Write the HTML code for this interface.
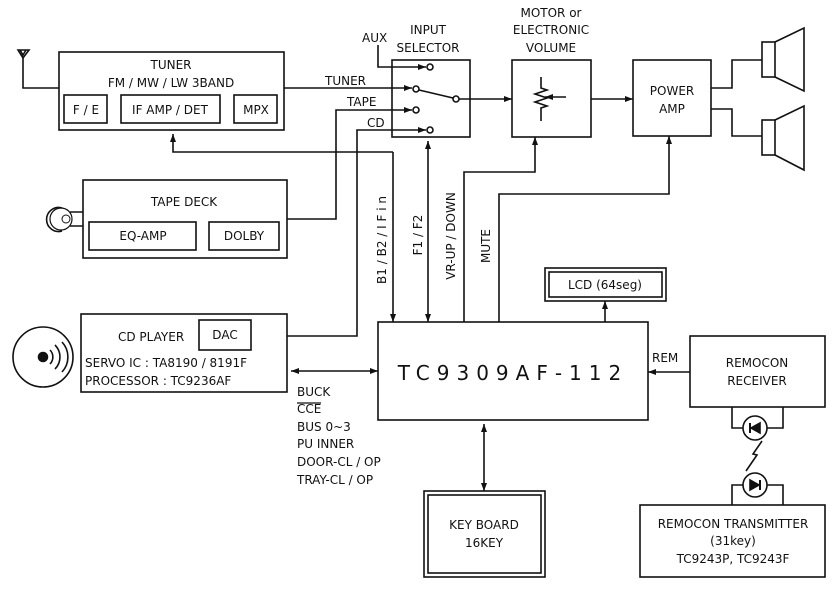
<!DOCTYPE html>
<html><head><meta charset="utf-8"><style>
html,body{margin:0;padding:0;background:#fff;}
svg{display:block;}
text{font-family:"DejaVu Sans","Liberation Sans",sans-serif;font-size:12px;fill:#111;}
</style></head><body>
<svg width="835" height="594" viewBox="0 0 835 594" xmlns="http://www.w3.org/2000/svg">
<defs>
<marker id="a" markerWidth="8" markerHeight="6" refX="8" refY="3" orient="auto" markerUnits="userSpaceOnUse"><path d="M0,0 L8,3 L0,6 z" fill="#111"/></marker>
<marker id="s" markerWidth="8" markerHeight="6" refX="0" refY="3" orient="auto" markerUnits="userSpaceOnUse"><path d="M8,0 L0,3 L8,6 z" fill="#111"/></marker>
</defs>
<g fill="none" stroke="#111" stroke-width="1.6">
<path d="M18,50 L29,50 L23,58 z M20,50 L23,55 L26,50"/>
<path d="M23,58 V88 H59"/>
<rect x="59" y="52" width="225" height="78"/>
<rect x="64" y="95" width="43" height="28"/>
<rect x="121" y="95" width="99" height="28"/>
<rect x="234" y="95" width="43" height="28"/>
<rect x="392" y="60" width="78" height="77"/>
<path d="M378,45 V67 H426" marker-end="url(#a)"/>
<path d="M284,88 H412" marker-end="url(#a)"/>
<path d="M287,219 H336 V110 H412" marker-end="url(#a)"/>
<path d="M287,336 H357 V130 H426" marker-end="url(#a)"/>
<circle cx="430" cy="67" r="3" fill="#fff"/>
<circle cx="416" cy="89" r="3" fill="#fff"/>
<circle cx="416" cy="110" r="3" fill="#fff"/>
<circle cx="430" cy="130" r="3" fill="#fff"/>
<path d="M419,90 L453,98"/>
<circle cx="456" cy="99" r="3" fill="#fff"/>
<path d="M459,99 H512" marker-end="url(#a)"/>
<rect x="512" y="60" width="79" height="77"/>
<path d="M541,77 V88 L547,90 L535,94 L547,98 L535,102 L547,106 L541,108 V121"/>
<path d="M566,97 H545" marker-end="url(#a)"/>
<path d="M591,99 H633" marker-end="url(#a)"/>
<rect x="633" y="60" width="78" height="76"/>
<path d="M711,88 H732 V60 H762"/>
<path d="M711,109 H732 V136 H762"/>
<rect x="762" y="42" width="13" height="35"/>
<path d="M775,42 L804,28 V91 L775,77"/>
<rect x="762" y="120" width="13" height="35"/>
<path d="M775,120 L804,106 V170 L775,155"/>
<rect x="83" y="180" width="204" height="78"/>
<rect x="89" y="222" width="107" height="28"/>
<rect x="209" y="222" width="70" height="28"/>
<path d="M70,212 H83 M70,226 H83"/>
<path d="M62,208 A12,12 0 1 0 62,231"/>
<circle cx="61" cy="219" r="11" stroke-width="1.2"/>
<circle cx="66" cy="219" r="4" stroke-width="1"/>
<rect x="81" y="314" width="206" height="78"/>
<rect x="199" y="320" width="52" height="30"/>
<circle cx="43" cy="357" r="30"/>
<circle cx="43" cy="357" r="4.5" fill="#111"/>
<path d="M50,350 A10,10 0 0 1 50,364"/>
<path d="M55,345 A17,17 0 0 1 55,369"/>
<path d="M62,342 A22,22 0 0 1 62,372"/>
<path d="M291,371 H378" marker-start="url(#s)" marker-end="url(#a)"/>
<rect x="378" y="322" width="270" height="98"/>
<path d="M393,152 H173 V134" marker-end="url(#a)"/>
<path d="M393,152 V322" marker-end="url(#a)"/>
<path d="M428,141 V322" marker-start="url(#s)" marker-end="url(#a)"/>
<path d="M464,322 V172 H535 V137" marker-end="url(#a)"/>
<path d="M499,322 V194 H669 V136" marker-end="url(#a)"/>
<rect x="545" y="268" width="121" height="33"/>
<rect x="549" y="272" width="113" height="25"/>
<path d="M605,322 V301" marker-end="url(#a)"/>
<rect x="690" y="336" width="135" height="71"/>
<path d="M690,372 H648" marker-end="url(#a)"/>
<path d="M732,407 V428 H743 M767,428 H783 V407"/>
<circle cx="755" cy="428" r="12"/>
<path d="M760,423 V433 L751,428 z" fill="#111"/>
<path d="M750,423 V433" stroke-width="2"/>
<path d="M762,441 L753,454 L757,455 L746,471"/>
<circle cx="755" cy="485" r="12"/>
<path d="M750,480 V490 L759,485 z" fill="#111"/>
<path d="M760,480 V490" stroke-width="2"/>
<path d="M732,505 V485 H743 M767,485 H783 V505"/>
<rect x="640" y="505" width="185" height="72"/>
<rect x="424" y="491" width="121" height="86"/>
<rect x="428" y="495" width="113" height="78"/>
<path d="M484,424 V491" marker-start="url(#s)" marker-end="url(#a)"/>
<path d="M297,403 H321" stroke-width="1.2"/>
</g>
<g text-anchor="middle">
<text x="171" y="69">TUNER</text>
<text x="171" y="87">FM / MW / LW  3BAND</text>
<text x="86" y="114">F / E</text>
<text x="170" y="114">IF  AMP / DET</text>
<text x="256" y="114">MPX</text>
<text x="428" y="34">INPUT</text>
<text x="428" y="52">SELECTOR</text>
<text x="551" y="17">MOTOR or</text>
<text x="551" y="34">ELECTRONIC</text>
<text x="551" y="52">VOLUME</text>
<text x="672" y="95">POWER</text>
<text x="672" y="113">AMP</text>
<text x="184" y="206">TAPE  DECK</text>
<text x="143" y="240">EQ-AMP</text>
<text x="244" y="240">DOLBY</text>
<text x="225" y="339">DAC</text>
<text x="605" y="289">LCD  (64seg)</text>
<text x="757" y="367">REMOCON</text>
<text x="757" y="385">RECEIVER</text>
<text x="733" y="528">REMOCON  TRANSMITTER</text>
<text x="733" y="545">(31key)</text>
<text x="733" y="563">TC9243P,  TC9243F</text>
<text x="484" y="529">KEY  BOARD</text>
<text x="484" y="547">16KEY</text>
<text x="513" y="380" style="font-size:20px;letter-spacing:7px">TC9309AF-112</text>
</g>
<text x="362" y="42">AUX</text>
<text x="325" y="85">TUNER</text>
<text x="347" y="106">TAPE</text>
<text x="367" y="127">CD</text>
<text x="118" y="341">CD  PLAYER</text>
<text x="85" y="367">SERVO IC     :  TA8190 / 8191F</text>
<text x="85" y="385">PROCESSOR  :  TC9236AF</text>
<text x="297" y="396">BUCK</text>
<text x="297" y="413">CCE</text>
<text x="297" y="431">BUS  0~3</text>
<text x="297" y="448">PU  INNER</text>
<text x="297" y="466">DOOR-CL / OP</text>
<text x="297" y="484">TRAY-CL / OP</text>
<text x="652" y="362">REM</text>
<g text-anchor="middle">
<text transform="translate(386,240) rotate(-90)">B1 / B2 / I F i n</text>
<text transform="translate(422,235) rotate(-90)">F1  /  F2</text>
<text transform="translate(455,236) rotate(-90)">VR-UP / DOWN</text>
<text transform="translate(490,246) rotate(-90)">MUTE</text>
</g>
</svg>
</body></html>
